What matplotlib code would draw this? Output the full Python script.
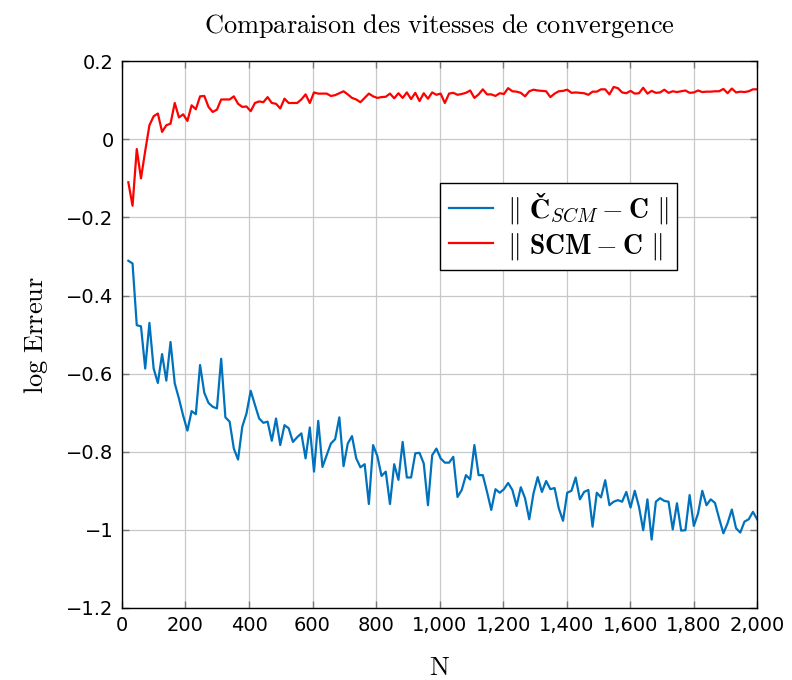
import matplotlib
matplotlib.use("Agg")
import matplotlib.pyplot as plt
import numpy as np
from matplotlib.ticker import FuncFormatter

# N : 150 points de 20 a 2000
N = np.linspace(20, 2000, 150)

err_cscm = [
    -0.311, -0.318, -0.476, -0.479, -0.587, -0.470, -0.587, -0.624, -0.550, -0.618,
    -0.519, -0.625, -0.664, -0.708, -0.746, -0.696, -0.704, -0.578, -0.649, -0.675,
    -0.685, -0.689, -0.562, -0.712, -0.723, -0.792, -0.820, -0.736, -0.702, -0.644,
    -0.680, -0.715, -0.726, -0.723, -0.772, -0.715, -0.783, -0.732, -0.740, -0.775,
    -0.763, -0.753, -0.817, -0.738, -0.851, -0.721, -0.839, -0.809, -0.779, -0.768,
    -0.712, -0.837, -0.779, -0.760, -0.817, -0.840, -0.832, -0.934, -0.783, -0.811,
    -0.862, -0.851, -0.934, -0.832, -0.872, -0.775, -0.866, -0.866, -0.804, -0.803,
    -0.830, -0.937, -0.809, -0.792, -0.817, -0.828, -0.828, -0.813, -0.916, -0.898,
    -0.860, -0.871, -0.783, -0.860, -0.860, -0.903, -0.949, -0.896, -0.905, -0.896,
    -0.880, -0.898, -0.939, -0.891, -0.919, -0.973, -0.907, -0.865, -0.903, -0.875,
    -0.896, -0.893, -0.945, -0.977, -0.905, -0.900, -0.866, -0.922, -0.903, -0.898,
    -0.992, -0.905, -0.917, -0.873, -0.937, -0.928, -0.924, -0.928, -0.903, -0.943,
    -0.900, -0.941, -1.001, -0.922, -1.025, -0.928, -0.919, -0.926, -0.928, -0.999,
    -0.932, -1.002, -1.001, -0.911, -0.990, -0.958, -0.900, -0.937, -0.922, -0.931,
    -0.971, -1.009, -0.983, -0.948, -0.996, -1.007, -0.979, -0.973, -0.954, -0.973,
]

err_scm = [
    -0.110, -0.170, -0.025, -0.100, -0.030, 0.036, 0.059, 0.066, 0.019, 0.036,
    0.040, 0.093, 0.056, 0.064, 0.047, 0.087, 0.077, 0.110, 0.111, 0.083,
    0.070, 0.076, 0.102, 0.102, 0.102, 0.110, 0.091, 0.083, 0.084, 0.072,
    0.093, 0.097, 0.095, 0.108, 0.093, 0.091, 0.079, 0.104, 0.093, 0.093,
    0.093, 0.102, 0.115, 0.093, 0.120, 0.117, 0.117, 0.117, 0.111, 0.113,
    0.118, 0.123, 0.115, 0.106, 0.102, 0.095, 0.106, 0.117, 0.110, 0.106,
    0.108, 0.109, 0.117, 0.105, 0.118, 0.106, 0.120, 0.103, 0.119, 0.098,
    0.118, 0.104, 0.120, 0.114, 0.117, 0.093, 0.117, 0.119, 0.114, 0.116,
    0.119, 0.125, 0.106, 0.115, 0.128, 0.115, 0.115, 0.111, 0.118, 0.116,
    0.131, 0.123, 0.122, 0.119, 0.110, 0.123, 0.127, 0.125, 0.124, 0.123,
    0.108, 0.117, 0.123, 0.124, 0.127, 0.119, 0.120, 0.119, 0.118, 0.114,
    0.122, 0.122, 0.128, 0.128, 0.115, 0.134, 0.131, 0.120, 0.118, 0.124,
    0.117, 0.118, 0.132, 0.117, 0.124, 0.119, 0.120, 0.127, 0.119, 0.123,
    0.121, 0.123, 0.125, 0.119, 0.120, 0.125, 0.121, 0.122, 0.122, 0.123,
    0.123, 0.129, 0.118, 0.130, 0.120, 0.122, 0.121, 0.123, 0.128, 0.128,
]

xticks = [0, 200, 400, 600, 800, 1000, 1200, 1400, 1600, 1800, 2000]
yticks = [-1.2, -1.0, -0.8, -0.6, -0.4, -0.2, 0, 0.2]

plt.rcParams['mathtext.fontset'] = 'cm'
plt.rcParams['font.family'] = 'DejaVu Sans'

fig = plt.figure(figsize=(7.92, 6.8), dpi=100)
ax = fig.add_axes([0.154, 0.106, 0.802, 0.804])

ax.plot(N, err_cscm, color='#0072BD', lw=1.6,
        label=r'$\Vert\ \mathbf{Č}_{SCM} - \mathbf{C}\ \Vert$')
ax.plot(N, err_scm, color='#FF0000', lw=1.6,
        label=r'$\Vert\ \mathbf{SCM} - \mathbf{C}\ \Vert$')

ax.set_xlim(0, 2000)
ax.set_ylim(-1.2, 0.2)
ax.set_xticks(xticks)
ax.set_yticks(yticks)
ax.xaxis.set_major_formatter(FuncFormatter(lambda v, p: '{:,.0f}'.format(v)))

def yfmt(v, p):
    if abs(v) < 1e-9:
        return '0'
    s = '{:g}'.format(round(v, 1))
    return s.replace('-', '\u2212')

ax.yaxis.set_major_formatter(FuncFormatter(yfmt))
ax.grid(True, color='#c8c8c8', lw=0.9)
ax.set_axisbelow(True)
ax.tick_params(direction='in', length=5, width=1, color='#777777',
               top=True, right=True, labelsize=14, pad=6)
for s in ax.spines.values():
    s.set_linewidth(1.0)

ax.set_title(r'$\mathrm{Comparaison\ des\ vitesses\ de\ convergence}$',
             fontsize=19, pad=20)
ax.set_xlabel(r'$\mathrm{N}$', fontsize=19, labelpad=14)
ax.set_ylabel(r'$\mathrm{log\ Erreur}$', fontsize=19, labelpad=12)

leg = ax.legend(loc='upper left', bbox_to_anchor=(0.501, 0.777), fontsize=20,
                fancybox=False, framealpha=1, edgecolor='black',
                borderaxespad=0, handlelength=1.6, borderpad=0.3,
                labelspacing=0.15, handletextpad=0.5)
leg.get_frame().set_linewidth(1.0)

fig.savefig('out.png', dpi=100)
